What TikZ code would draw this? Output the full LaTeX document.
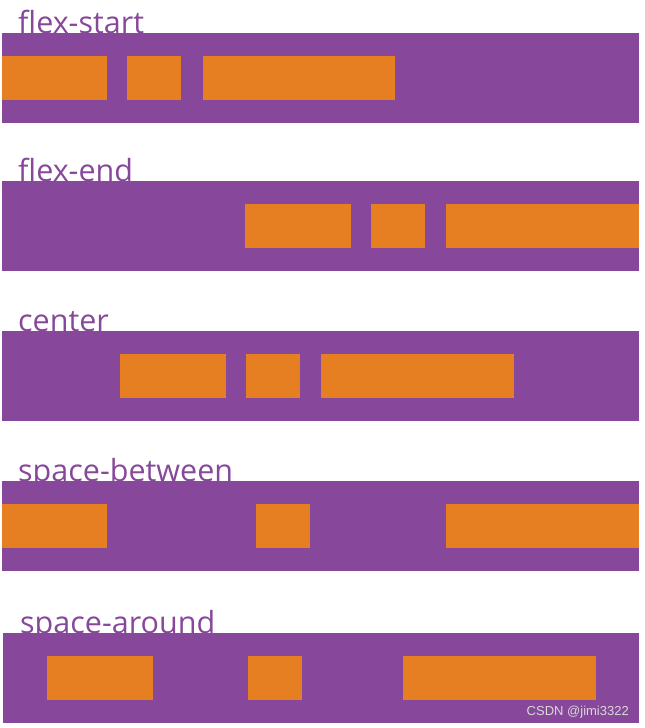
\documentclass[tikz,border=0pt]{standalone}
\usepackage{fontspec}
\setmainfont{Open Sans}
\newfontfamily\markfont{Liberation Sans}
\usepackage{tikz}

\definecolor{flexpurple}{HTML}{87479A}
\definecolor{flexorange}{HTML}{E67F22}

\begin{document}
\begin{tikzpicture}[x=1pt, y=-1pt,
    band/.style={fill=flexpurple},
    item/.style={fill=flexorange},
    lbl/.style={anchor=base west, inner sep=0pt, text=flexpurple, font=\fontsize{30.5}{31}\selectfont}]
    \useasboundingbox (0, 0) rectangle (645, 728);
    % labels first, the bands hide their lower part
    \node[lbl] (start)   at (18, 33)  {flex-start};
    \node[lbl] (end)     at (18, 181) {flex-end};
    \node[lbl] (center)  at (18, 331) {center};
    \node[lbl] (between) at (18, 481) {space-between};
    \node[lbl] (around)  at (20, 633) {space-around};
    % flex-start
    \fill[band] (2, 33) rectangle (639, 123);
    \fill[item] (2, 56) rectangle (107, 100);
    \fill[item] (127, 56) rectangle (181, 100);
    \fill[item] (203, 56) rectangle (395, 100);
    % flex-end
    \fill[band] (2, 181) rectangle (639, 271);
    \fill[item] (245, 204) rectangle (351, 248);
    \fill[item] (371, 204) rectangle (425, 248);
    \fill[item] (446, 204) rectangle (639, 248);
    % center
    \fill[band] (2, 331) rectangle (639, 421);
    \fill[item] (120, 354) rectangle (226, 398);
    \fill[item] (246, 354) rectangle (300, 398);
    \fill[item] (321, 354) rectangle (514, 398);
    % space-between
    \fill[band] (2, 481) rectangle (639, 571);
    \fill[item] (2, 504) rectangle (107, 548);
    \fill[item] (256, 504) rectangle (310, 548);
    \fill[item] (446, 504) rectangle (639, 548);
    % space-around
    \fill[band] (3, 633) rectangle (639, 723);
    \fill[item] (47, 656) rectangle (153, 700);
    \fill[item] (248, 656) rectangle (302, 700);
    \fill[item] (403, 656) rectangle (596, 700);
    \node[anchor=base east, inner sep=0pt, text=black!15, font=\markfont\fontsize{13}{13}\selectfont] (mark) at (629, 715) {CSDN @jimi3322};
\end{tikzpicture}
\end{document}
